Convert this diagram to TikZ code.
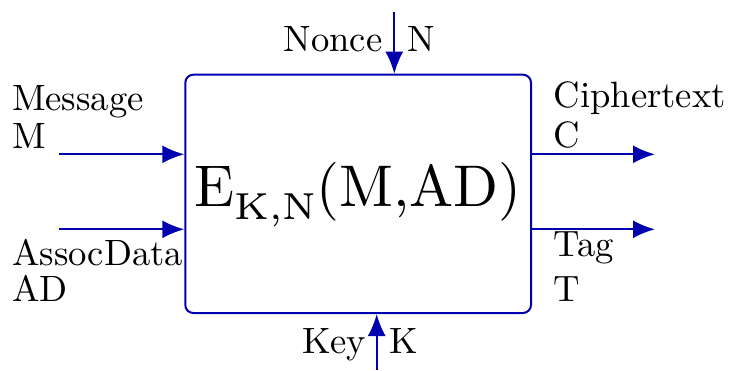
\documentclass[tikz,border=0pt]{standalone}
\usepackage{graphicx}
\usetikzlibrary{arrows.meta}
\definecolor{dblue}{RGB}{0,0,175}
\newcommand\lbltxt[1]{\scalebox{1.832}{\fontsize{10}{12}\selectfont #1}}
\newcommand\boxtxt[1]{\scalebox{2.94}{\fontsize{10}{12}\selectfont #1}}
\begin{document}
\begin{tikzpicture}[x=0.5pt,y=-0.5pt,
  lbl/.style={anchor=base west,inner sep=0pt},
  arr/.style={draw=dblue,line width=1pt,-{Latex[length=11pt,width=9pt]}},
  boxst/.style={draw=dblue,line width=1pt,rounded corners=4pt,minimum width=172.85pt,minimum height=119.15pt,inner sep=0pt,text height=20pt,text depth=7.15pt}]
\useasboundingbox (0,0) rectangle (729,370);
\node[boxst] (box) at (358.15,193.85) {\boxtxt{E\raisebox{-2.1pt}{\fontsize{6.4}{7}\selectfont K,N}(M,AD)}};
% labels
\node[lbl] (msg) at (11.7,110.7) {\lbltxt{Message}};
\node[lbl] (m) at (11.7,148) {\lbltxt{M}};
\node[lbl] (ad1) at (11.7,265) {\lbltxt{AssocData}};
\node[lbl] (ad2) at (11.7,301.7) {\lbltxt{AD}};
\node[lbl] (ct) at (553.3,107.3) {\lbltxt{Ciphertext}};
\node[lbl] (c) at (553.3,147.3) {\lbltxt{C}};
\node[lbl] (tag) at (553.3,256.7) {\lbltxt{Tag}};
\node[lbl] (t) at (553.3,301.7) {\lbltxt{T}};
\node[lbl] (nonce) at (283.3,51) {\lbltxt{Nonce}};
\node[lbl] (n) at (406.7,51) {\lbltxt{N}};
\node[lbl] (key) at (301.7,353.3) {\lbltxt{Key}};
\node[lbl] (k) at (389.3,353.3) {\lbltxt{K}};
% arrow ends
\coordinate (in1) at (59.3,154.3);
\coordinate (in2) at (59.3,229.3);
\coordinate (out1) at (655,154.3);
\coordinate (out2) at (655,229.3);
\coordinate (nin) at (394.3,12);
\coordinate (kin) at (376.7,370);
\draw[arr] (in1) -- (in1 -| box.west);
\draw[arr] (in2) -- (in2 -| box.west);
\draw[arr] (out1 -| box.east) -- (out1);
\draw[arr] (out2 -| box.east) -- (out2);
\draw[arr] (nin) -- (nin |- box.north);
\draw[arr] (kin) -- (kin |- box.south);
\end{tikzpicture}
\end{document}
